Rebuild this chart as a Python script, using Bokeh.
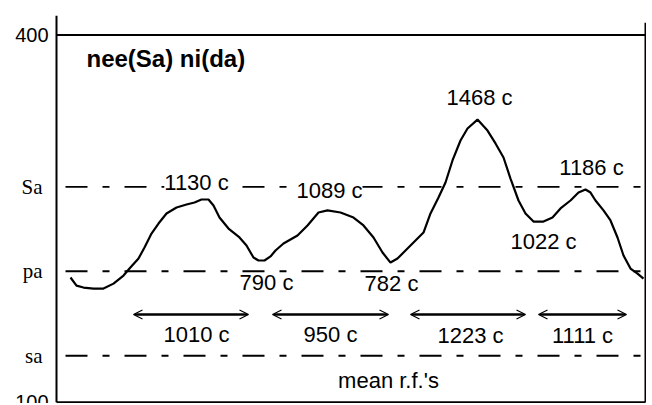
from bokeh.plotting import figure
from bokeh.models import (Range1d, Label, LabelSet, ColumnDataSource, Arrow, OpenHead)
from bokeh.core.properties import value
from bokeh.embed import file_html
from bokeh.resources import INLINE

# ---- data (x in arbitrary time units, y in Hz) ----
t = [14, 20, 27, 37, 47, 57, 67, 73, 82, 88, 95, 102, 110, 120, 130, 138, 145, 152, 157, 163,
     172, 183, 190, 197, 202, 208, 214, 219, 227, 241, 251, 262, 271, 284, 297, 307, 317, 326, 334, 341,
     347, 357, 367, 374, 382, 389, 396, 404, 411, 421, 431, 439, 447, 454, 462, 469, 477, 487, 496, 504,
     514, 522, 529, 534, 539, 547, 554, 561, 567, 574, 581, 587]
pitch = [201.9, 195.3, 193.7, 192.9, 192.9, 196.9, 203.5, 209.2, 217.4, 226.4,
         237.8, 246.0, 254.2, 259.1, 261.5, 263.2, 265.6, 265.6, 260.7, 250.9,
         241.9, 234.6, 228.0, 218.2, 215.8, 215.8, 219.1, 224.0, 229.7, 236.2,
         244.4, 255.0, 256.7, 255.0, 250.9, 244.4, 234.6, 222.3, 214.1, 217.4,
         222.3, 230.5, 238.6, 254.2, 267.2, 279.5, 297.5, 313.8, 323.6, 330.9,
         321.9, 311.4, 299.9, 282.7, 264.8, 254.2, 247.6, 247.6, 250.9, 258.3,
         264.8, 271.3, 273.8, 271.3, 264.8, 256.7, 248.5, 234.6, 219.9, 209.2,
         205.1, 201.0]

level_names = ["Sa", "pa", "sa"]
level_vals = [276, 207, 138]
axis_ticks = [400, 100]
axis_tick_labels = ["400", "100"]

# peak / trough annotations (label anchor positions)
peak_text = ["1130 c", "1089 c"]
peak_x = [140, 273]
peak_y = [279.1, 273.0]
note_text = ["1468 c", "1186 c", "790 c", "782 c", "1022 c"]
note_x = [423, 535, 210, 335, 487]
note_y = [348.9, 291.7, 197.8, 197.0, 231.3]

# mean r.f. intervals
iv_start = [77, 216, 354, 482]
iv_end = [192, 332, 469, 570]
iv_y = [171.7, 171.7, 171.7, 171.7]
iv_text = ["1010 c", "950 c", "1223 c", "1111 c"]
iv_label_x = [140, 274, 414, 526]
iv_label_y = [155.3, 155.3, 154.5, 154.5]

title_text = "nee(Sa) ni(da)"
footer_text = "mean r.f.'s"

SANS = "Liberation Sans"
SERIF = "Liberation Serif"
X_AXIS = 0
X_RIGHT = 589
Y_TOP_EDGE = 410

p = figure(width=646, height=403, x_range=Range1d(-56, 590), y_range=Range1d(99, 415.9),
           x_axis_type=None, y_axis_type=None, output_backend="svg", toolbar_location=None,
           min_border_left=0, min_border_right=0, min_border_top=15, min_border_bottom=0)
p.outline_line_color = None
p.background_fill_color = "white"
p.border_fill_color = "white"

n_ax = len(axis_ticks)
n_lv = len(level_vals)

# axis frame lines
p.segment(x0=[X_AXIS, X_RIGHT], y0=[min(axis_ticks), min(axis_ticks)],
          x1=[X_AXIS, X_RIGHT], y1=[415.9, Y_TOP_EDGE], line_color="black", line_width=2)
p.segment(x0=[X_AXIS] * n_ax, y0=axis_ticks, x1=[X_RIGHT] * n_ax, y1=axis_ticks,
          line_color="black", line_width=2)
p.text(x=[X_AXIS] * n_ax, y=axis_ticks, text=axis_tick_labels, x_offset=-8,
       text_align="right", text_baseline="middle", text_font=value(SANS),
       text_font_size="20px", text_color="black")

# svara reference levels
p.segment(x0=[X_AXIS] * n_lv, y0=level_vals, x1=[X_RIGHT] * n_lv, y1=level_vals,
          line_color="black", line_width=1.8, line_dash="22 15 7 15", line_dash_offset=50)
p.text(x=[X_AXIS] * n_lv, y=level_vals, text=level_names, x_offset=-14,
       text_align="right", text_baseline="middle", text_font=value(SERIF),
       text_font_size="21px", text_color="black")

# pitch contour
p.line(t, pitch, line_color="black", line_width=2.2)

# labels breaking the dashed line
src_peak = ColumnDataSource(dict(x=peak_x, y=peak_y, text=peak_text))
p.add_layout(LabelSet(x="x", y="y", text="text", source=src_peak, text_align="center",
                      text_baseline="middle", text_font=value(SANS), text_font_size="22px",
                      text_color="black", background_fill_color="white"))
src_note = ColumnDataSource(dict(x=note_x, y=note_y, text=note_text))
p.add_layout(LabelSet(x="x", y="y", text="text", source=src_note, text_align="center",
                      text_baseline="middle", text_font=value(SANS), text_font_size="22px",
                      text_color="black"))

# interval arrows
src_iv = ColumnDataSource(dict(x0=iv_start, x1=iv_end, y=iv_y))
p.add_layout(Arrow(x_start="x0", y_start="y", x_end="x1", y_end="y", source=src_iv,
                   line_color="black", line_width=2.5,
                   start=OpenHead(size=9, line_width=1.2, line_color="black"),
                   end=OpenHead(size=9, line_width=1.2, line_color="black")))
src_ivl = ColumnDataSource(dict(x=iv_label_x, y=iv_label_y, text=iv_text))
p.add_layout(LabelSet(x="x", y="y", text="text", source=src_ivl, text_align="center",
                      text_baseline="middle", text_font=value(SANS), text_font_size="22px",
                      text_color="black"))

p.add_layout(Label(x=30, y=380.8, text=title_text, text_align="left", text_baseline="middle",
                   text_font=SANS, text_font_style="bold", text_font_size="24px",
                   text_color="black"))
p.add_layout(Label(x=332, y=117.7, text=footer_text, text_align="center", text_baseline="middle",
                   text_font=SANS, text_font_size="22px", text_color="black"))

open("out.html", "w").write(file_html(p, INLINE))
